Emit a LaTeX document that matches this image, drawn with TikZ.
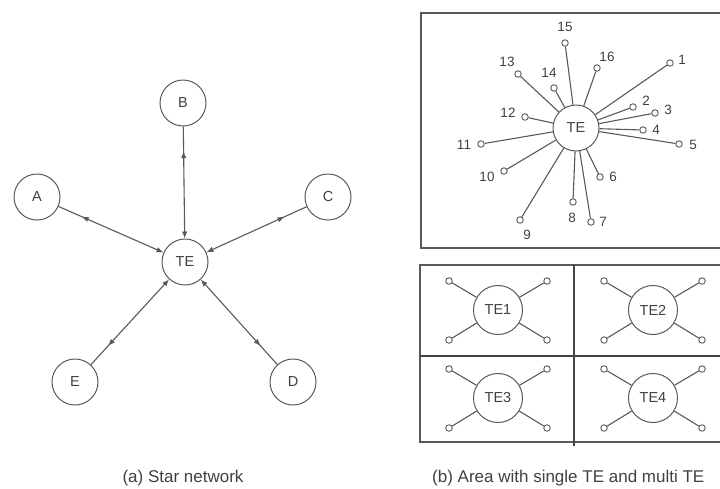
\documentclass[tikz,border=0pt]{standalone}
\usepackage{fontspec}
\setmainfont{Liberation Sans}
\usetikzlibrary{arrows.meta,decorations.markings}
\definecolor{ln}{gray}{0.35}
\definecolor{tx}{gray}{0.25}
\tikzset{
 big/.style={circle,draw=ln,line width=1pt,minimum size=46pt,inner sep=0pt,font=\fontsize{14.5}{14.5}\selectfont,text=tx},
 cellte/.style={big,minimum size=49pt},
 tiny/.style={circle,draw=ln,line width=0.9pt,minimum size=6.5pt,inner sep=0pt},
 num/.style={font=\fontsize{13.5}{13.5}\selectfont,text=tx,inner sep=0pt},
 link/.style={draw=ln,line width=1.1pt},
 bidir/.style={link,-{Latex[length=7pt,width=5.5pt]},postaction={decorate},
   decoration={markings,mark=at position 0.22 with {\arrowreversed{Latex[length=7pt,width=5.5pt]}}}},
 frame/.style={draw=ln,line width=1.7pt},
 captext/.style={font=\fontsize{17}{17}\selectfont,text=tx,inner sep=0pt},
}
\begin{document}
\begin{tikzpicture}[x=1pt,y=-1pt]
\useasboundingbox (0,0) rectangle (720,488);
\clip (0,0) rectangle (720,488);
% (a) star network
\node[big] (TE) at (185,262) {TE};
\node[big] (A) at (37,197) {A};
\node[big] (B) at (183,103) {B};
\node[big] (C) at (328,197) {C};
\node[big] (D) at (293,382) {D};
\node[big] (E) at (75,382) {E};
\foreach \n in {A,B,C,D,E} \draw[bidir] (\n) -- (TE);
\node[captext] (capa) at (183,478) {(a) Star network};
% (b) top: single TE
\draw[frame] (421,13) rectangle (730,248);
\node[big] (T) at (576,128) {TE};
\foreach \i/\x/\y/\lx/\ly in {1/670/63/682/60, 2/633/107/646/101, 3/655/113/668/110, 4/643/130/656/130, 5/679/144/693/145, 6/600/177/613/177, 7/591/222/603/222, 8/573/202/572/218, 9/520/220/527/235, 10/504/171/487/177, 11/481/144/464/145, 12/525/117/508/113, 13/518/74/507/62, 14/554/88/549/73, 15/565/43/565/27, 16/597/68/607/57}{
  \node[tiny] (n\i) at (\x,\y) {};
  \node[num] (l\i) at (\lx,\ly) {\i};
  \draw[link] (n\i) -- (T);
}
% (b) bottom: multi TE
\draw[frame] (420,265) rectangle (730,442);
\coordinate (vt) at (574,265);
\coordinate (vb) at (574,446);
\coordinate (hl) at (420,356);
\coordinate (hr) at (730,356);
\draw[frame,draw=ln!75!black] (vt) -- (vb);
\draw[frame,draw=ln!75!black] (hl) -- (hr);
\foreach \k/\cx/\cy in {1/498/310, 2/653/310, 3/498/398, 4/653/398}{
  \node[cellte] (te\k) at (\cx,\cy) {TE\k};
  \node[tiny] (a\k) at (\cx-49,\cy-29) {};
  \node[tiny] (b\k) at (\cx+49,\cy-29) {};
  \node[tiny] (c\k) at (\cx-49,\cy+30) {};
  \node[tiny] (d\k) at (\cx+49,\cy+30) {};
  \foreach \s in {a,b,c,d} \draw[link] (\s\k) -- (te\k);
}
\node[captext,anchor=west] (capb) at (432,478) {(b) Area with single TE and multi TE};
\end{tikzpicture}
\end{document}
